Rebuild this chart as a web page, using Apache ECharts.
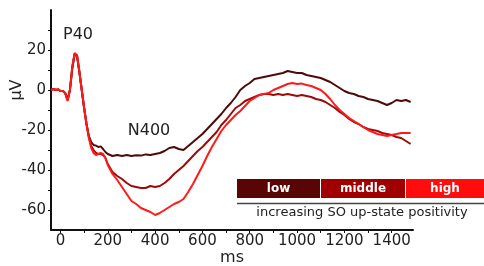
<!DOCTYPE html>
<html>
<head>
<meta charset="utf-8">
<script src="https://cdn.jsdelivr.net/npm/echarts@6/dist/echarts.min.js"></script>
<style>
html, body { margin: 0; padding: 0; background: #fff; }
#main { width: 484px; height: 266px; }
</style>
</head>
<body>
<div id="main"></div>
<script>
// time points (ms)
var ms = [-40,-30,-20,-10,0,10,20,30,40,50,60,70,80,90,100,110,120,130,140,150,160,170,180,190,200,
  220,240,260,280,300,320,340,360,380,400,420,440,460,480,500,520,540,560,580,600,620,640,660,680,700,
  720,740,760,780,800,820,840,860,880,900,920,940,960,980,1000,1020,1040,1060,1080,1100,1120,1140,1160,1180,1200,
  1220,1240,1260,1280,1300,1320,1340,1360,1380,1400,1420,1440,1460,1480];

// low SO up-state positivity
var low = [0,0.5,0,0.3,-0.5,-0.5,-1.5,-5,0,11,18,17,9,0,-9,-17,-23,-26,-27.5,-27.8,-28.5,-28.2,-29.5,-31,-32,
  -33,-32.5,-33,-32.5,-33,-32.6,-32.8,-32.2,-32.5,-32,-31.5,-30.5,-29,-28.5,-29.5,-30,-28,-26,-24,-22,-19.5,-17,-14.5,-12,-9,
  -6.5,-3.5,0,2,3.5,5.5,6,6.5,7,7.5,8,8.5,9.5,9,8.5,8.5,7.5,7,6.5,6,5,4,2.5,1,-0.5,
  -1.5,-2,-3,-3.5,-4.5,-5,-5.5,-6.5,-7.5,-6.5,-5,-5.5,-5,-6];

// middle
var middle = [0,0.5,0,0.3,-0.5,-0.5,-1.5,-5,0,11,18,17,9,0,-9,-17,-23.5,-28,-30,-31.5,-32,-32,-32.5,-34,-37,
  -41,-43,-44.5,-46.5,-48,-48.5,-49,-49,-48,-48.5,-48,-46.5,-44.5,-42,-40,-38,-35.5,-33,-30.5,-28.5,-26,-23.5,-21,-17.5,-15,
  -12,-9,-7.5,-5.5,-4.5,-3.5,-2.5,-2,-2,-2.5,-2,-2.5,-2,-2.5,-3,-2.5,-3,-3.5,-4.5,-5,-6,-7.5,-9,-11,-12.5,
  -14.5,-16,-17,-18.5,-19.5,-20,-20.5,-21.5,-22,-22.5,-23.5,-24,-25.5,-27];

// high
var high = [0,0.5,0,0.3,-0.5,-0.5,-1.5,-5.5,0,12,18.5,17.5,9,0,-9,-17,-24,-29,-31.5,-32.5,-32,-31.5,-32,-34,-37.5,
  -42,-45,-48.5,-52,-55.5,-57,-59,-60,-61,-62.5,-61.5,-60,-58.5,-57,-56,-54.5,-51,-47,-42.5,-38,-33,-28.5,-24.5,-20.5,-17.5,
  -15,-12.5,-10.5,-8,-5.5,-4,-2.5,-2,-1.5,0,1,2,3,3.5,3,3.2,2.5,2,1,0,-2,-4.5,-7.5,-10,-12,
  -14,-15.5,-17,-18.5,-20,-21,-22,-22.5,-23,-22.5,-22,-21.5,-21.5,-21.5];

var xLabels = [0,200,400,600,800,1000,1200,1400];
var xTicks = [0,100,200,300,400,500,600,700,800,900,1000,1100,1200,1300,1400];
var yLabels = [-60,-40,-20,0,20];
var yTicks = [-60,-50,-40,-30,-20,-10,0,10,20,30];

var groups = ['low','middle','high'];
var colors = ['#5a0505','#a00000','#ff0d0d'];
var lineColors = ['#4e0a0a','#9c0a0a','#ff1a1a'];

function pairs(ys){
  var out = [];
  for (var i = 0; i < ms.length; i++) out.push([ms[i], ys[i]]);
  return out;
}

var font = 'DejaVu Sans';
var series = [];
var sets = [low, middle, high];
for (var k = 0; k < 3; k++) {
  series.push({
    name: groups[k],
    type: 'line',
    data: pairs(sets[k]),
    showSymbol: false,
    smooth: false,
    lineStyle: { color: lineColors[k], width: 2 },
    z: 2 + k
  });
}

// legend bar
var graphic = [];
var bx = [237, 321, 406], bw = [83, 84, 78];
for (var k = 0; k < 3; k++) {
  graphic.push({ type: 'rect', shape: { x: bx[k], y: 179, width: bw[k], height: 19 }, style: { fill: colors[k] } });
  graphic.push({ type: 'text', x: bx[k] + bw[k] / 2, y: 188.5,
    style: { text: groups[k], fill: '#fff', font: 'bold 12px ' + font, align: 'center', verticalAlign: 'middle' } });
}
graphic.push({ type: 'line', shape: { x1: 237, y1: 203.5, x2: 484, y2: 203.5 }, style: { stroke: '#444', lineWidth: 1.5 } });
graphic.push({ type: 'text', x: 362, y: 213, style: { text: 'increasing SO up-state positivity', fill: '#222',
  font: '13px ' + font, align: 'center', verticalAlign: 'middle' } });
graphic.push({ type: 'text', x: 78, y: 35, style: { text: 'P40', fill: '#222', font: '16px ' + font, align: 'center', verticalAlign: 'middle' } });
graphic.push({ type: 'text', x: 149, y: 131, style: { text: 'N400', fill: '#222', font: '16px ' + font, align: 'center', verticalAlign: 'middle' } });
// y axis unit, sits beside the zero line like the original
graphic.push({ type: 'text', x: 17, y: 90, rotation: Math.PI / 2,
  style: { text: 'µV', fill: '#222', font: '16px ' + font, align: 'center', verticalAlign: 'middle' } });

var chart = echarts.init(document.getElementById('main'));
var option = {
  animation: false,
  backgroundColor: '#fff',
  grid: { left: 51, right: 71, top: 10, bottom: 36, outerBoundsMode: 'none', containLabel: false },
  xAxis: {
    type: 'value', min: -40, max: 1490,
    name: 'ms', nameLocation: 'middle', nameGap: 20, nameMoveOverlap: false,
    nameTextStyle: { fontFamily: font, fontSize: 16, color: '#222' },
    axisLine: { onZero: false, lineStyle: { color: '#111', width: 2 } },
    axisTick: { show: true, customValues: xTicks, length: 3, lineStyle: { color: '#111' } },
    axisLabel: { customValues: xLabels, formatter: function (v) { return String(v); },
      fontFamily: font, fontSize: 15, color: '#222', margin: 4 },
    splitLine: { show: false }
  },
  yAxis: {
    type: 'value', min: -70, max: 40,
    axisLine: { show: true, onZero: false, lineStyle: { color: '#111', width: 2 } },
    axisTick: { show: true, customValues: yTicks, length: 3, lineStyle: { color: '#111' } },
    axisLabel: { customValues: yLabels, formatter: function (v) { return String(v); },
      fontFamily: font, fontSize: 15, color: '#222', margin: 5 },
    splitLine: { show: false }
  },
  series: series,
  graphic: graphic
};
chart.setOption(option);
</script>
</body>
</html>
